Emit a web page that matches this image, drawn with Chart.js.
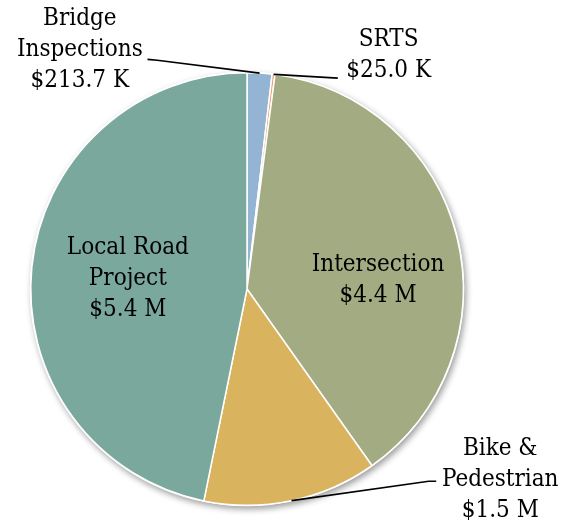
<!DOCTYPE html>
<html>
<head>
<meta charset="utf-8">
<script src="https://cdn.jsdelivr.net/npm/chart.js@4"></script>
<style>
  html, body { margin: 0; padding: 0; background: #ffffff; }
  #wrap { position: relative; width: 564px; height: 520px; }
</style>
</head>
<body>
<div id="wrap"><canvas id="c" width="564" height="520"></canvas></div>
<script>
// ---- data ----
const categories = ["Bridge Inspections", "SRTS", "Intersection", "Bike & Pedestrian", "Local Road Project"];
const values = [213.7, 25.0, 4400, 1500, 5400]; // thousands of dollars
const valueLabels = ["$213.7 K", "$25.0 K", "$4.4 M", "$1.5 M", "$5.4 M"];
const nameLines = [["Bridge", "Inspections"], ["SRTS"], ["Intersection"], ["Bike &", "Pedestrian"], ["Local Road", "Project"]];
const colors = ["#93B4D3", "#F0A474", "#A3AB82", "#D9B35E", "#7BA89D"];

// label placement (relative to pie centre, in units of radius); outside labels get leader lines
const labelPos = [
  { dx: -0.773, dy: -1.106, outside: true, attach: [-0.46, -1.062], bend: [-0.415, -1.058] },
  { dx: 0.655, dy: -1.079, outside: true, attach: [0.42, -0.975], bend: null },
  { dx: 0.606, dy: -0.042, outside: false },
  { dx: 1.171, dy: 0.880, outside: true, attach: [0.875, 0.889], bend: [0.84, 0.889] },
  { dx: -0.551, dy: -0.046, outside: false }
];

const FONT = '24px "DejaVu Serif Condensed", "DejaVu Serif", serif';
const LINE_H = 31;

const shadowPlugin = {
  id: 'pieShadow',
  beforeDatasetsDraw(chart) {
    const arc = chart.getDatasetMeta(0).data[0];
    if (!arc) return;
    const { x, y, outerRadius } = arc.getProps(['x', 'y', 'outerRadius'], true);
    const ctx = chart.ctx;
    ctx.save();
    ctx.shadowColor = 'rgba(0,0,0,0.38)';
    ctx.shadowBlur = 6;
    ctx.shadowOffsetX = 2;
    ctx.shadowOffsetY = 3;
    ctx.beginPath();
    ctx.arc(x, y, outerRadius + 1, 0, Math.PI * 2);
    ctx.fillStyle = '#ffffff';
    ctx.fill();
    ctx.restore();
  }
};

const labelPlugin = {
  id: 'pieLabels',
  afterDatasetsDraw(chart) {
    const meta = chart.getDatasetMeta(0);
    const ctx = chart.ctx;
    ctx.save();
    ctx.font = FONT;
    ctx.fillStyle = '#000000';
    ctx.textAlign = 'center';
    ctx.textBaseline = 'middle';
    meta.data.forEach((arc, i) => {
      const p = arc.getProps(['x', 'y', 'startAngle', 'endAngle', 'outerRadius'], true);
      const r = p.outerRadius;
      const lp = labelPos[i];
      const cx = p.x + lp.dx * r;
      const cy = p.y + lp.dy * r;
      const lines = nameLines[i].concat([valueLabels[i]]);
      const top = cy - (lines.length - 1) * LINE_H / 2;
      lines.forEach((t, k) => ctx.fillText(t, cx, top + k * LINE_H));
      if (lp.outside) {
        const mid = (p.startAngle + p.endAngle) / 2;
        const ex = p.x + Math.cos(mid) * r;
        const ey = p.y + Math.sin(mid) * r;
        ctx.beginPath();
        ctx.strokeStyle = '#000000';
        ctx.lineWidth = 1.6;
        ctx.moveTo(p.x + lp.attach[0] * r, p.y + lp.attach[1] * r);
        if (lp.bend) ctx.lineTo(p.x + lp.bend[0] * r, p.y + lp.bend[1] * r);
        ctx.lineTo(ex, ey);
        ctx.stroke();
      }
    });
    ctx.restore();
  }
};

new Chart(document.getElementById('c'), {
  type: 'pie',
  data: {
    labels: categories,
    datasets: [{
      data: values,
      backgroundColor: colors,
      borderColor: '#ffffff',
      borderWidth: 1.5
    }]
  },
  options: {
    responsive: false,
    animation: false,
    layout: { padding: { top: 72, bottom: 14, left: 30, right: 100 } },
    plugins: { legend: { display: false }, tooltip: { enabled: false } }
  },
  plugins: [shadowPlugin, labelPlugin]
});
</script>
</body>
</html>
